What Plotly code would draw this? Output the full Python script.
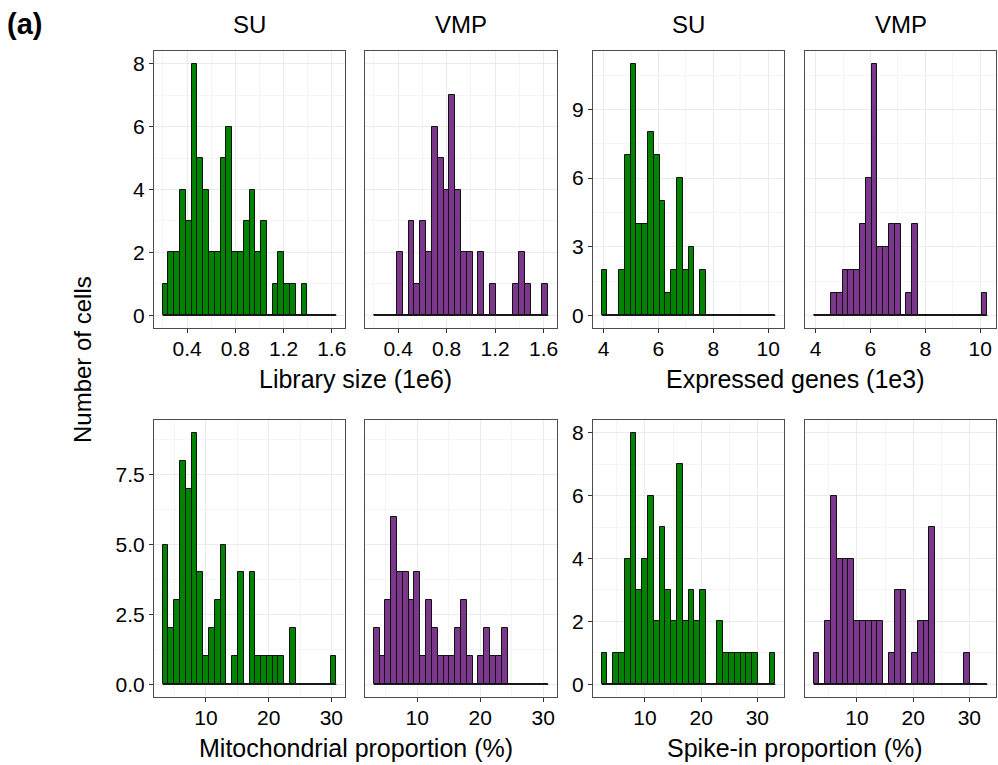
import plotly.graph_objects as go

# ---------------- data ----------------
groups = ["SU", "VMP"]
metrics = ["Library size (1e6)", "Expressed genes (1e3)",
           "Mitochondrial proportion (%)", "Spike-in proportion (%)"]

# histogram bins (30 bins, shared within each metric)
lib_bin_start, lib_bin_width = 0.198, 0.048
genes_bin_start, genes_bin_width = 3.93, 0.211
mito_bin_start, mito_bin_width = 3.10, 0.923
spike_bin_start, spike_bin_width = 2.30, 1.03

lib_su = [1, 2, 2, 4, 3, 8, 5, 4, 2, 2, 5, 6, 2, 2, 3, 4, 2, 3, 0, 1, 2, 1, 1, 0, 1, 0, 0, 0, 0, 0]
lib_vmp = [0, 0, 0, 0, 2, 0, 3, 1, 3, 2, 6, 5, 4, 7, 4, 2, 2, 0, 2, 0, 1, 0, 0, 0, 1, 2, 1, 0, 0, 1]

genes_su = [2, 0, 0, 2, 7, 11, 4, 4, 8, 7, 5, 1, 2, 6, 2, 3, 0, 2, 0, 0, 0, 0, 0, 0, 0, 0, 0, 0, 0, 0]
genes_vmp = [0, 0, 0, 1, 1, 2, 2, 2, 4, 6, 11, 3, 3, 4, 4, 0, 1, 4, 0, 0, 0, 0, 0, 0, 0, 0, 0, 0, 0, 1]

mito_su = [5, 2, 3, 8, 7, 9, 4, 1, 2, 3, 5, 0, 1, 4, 0, 4, 1, 1, 1, 1, 1, 0, 2, 0, 0, 0, 0, 0, 0, 1]
mito_vmp = [2, 1, 3, 6, 4, 4, 3, 4, 1, 3, 2, 1, 1, 1, 2, 3, 1, 0, 1, 2, 1, 1, 2, 0, 0, 0, 0, 0, 0, 0]

spike_su = [1, 0, 1, 1, 4, 8, 3, 4, 6, 2, 5, 3, 2, 7, 2, 3, 2, 3, 0, 0, 2, 1, 1, 1, 1, 1, 1, 0, 0, 1]
spike_vmp = [1, 0, 2, 6, 4, 4, 4, 2, 2, 2, 2, 2, 0, 1, 3, 3, 0, 1, 2, 2, 5, 0, 0, 0, 0, 0, 1, 0, 0, 0]

lib_xticks = [0.4, 0.8, 1.2, 1.6]
genes_xticks = [4, 6, 8, 10]
mito_xticks = [10, 20, 30]
spike_xticks = [10, 20, 30]

# ---------------- styling ----------------
W, H = 998, 765
GREEN = "#008300"
PURPLE = "#7a378b"
FONT = "Liberation Sans, Arial, sans-serif"

panel_x = [(154, 345), (365, 557), (593, 784), (805, 996)]
row_y = [(51, 328), (420, 697)]

panels = [
    # (row, col, counts, start, width, color, xticks, ydtick, yminor, ymax, ytickformat)
    (0, 0, lib_su, lib_bin_start, lib_bin_width, GREEN, lib_xticks, 2, 1, 8, ""),
    (0, 1, lib_vmp, lib_bin_start, lib_bin_width, PURPLE, lib_xticks, 2, 1, 8, ""),
    (0, 2, genes_su, genes_bin_start, genes_bin_width, GREEN, genes_xticks, 3, 1.5, 11, ""),
    (0, 3, genes_vmp, genes_bin_start, genes_bin_width, PURPLE, genes_xticks, 3, 1.5, 11, ""),
    (1, 0, mito_su, mito_bin_start, mito_bin_width, GREEN, mito_xticks, 2.5, 1.25, 9, ".1f"),
    (1, 1, mito_vmp, mito_bin_start, mito_bin_width, PURPLE, mito_xticks, 2.5, 1.25, 9, ".1f"),
    (1, 2, spike_su, spike_bin_start, spike_bin_width, GREEN, spike_xticks, 2, 1, 8, ""),
    (1, 3, spike_vmp, spike_bin_start, spike_bin_width, PURPLE, spike_xticks, 2, 1, 8, ""),
]

minor_x = {(0, 0): 0.2, (0, 1): 1, (1, 0): 5, (1, 1): 5}

fig = go.Figure()
layout = {}
for i, (r, c, counts, start, width, color, xticks, ydt, ymin_dt, ymax, yfmt) in enumerate(panels):
    n = i + 1
    xa = "x" if n == 1 else f"x{n}"
    ya = "y" if n == 1 else f"y{n}"
    nb = len(counts)
    centers = [start + width * (k + 0.5) for k in range(nb)]
    end = start + width * nb
    # baseline (zero-height bins drawn as flat line, like ggplot)
    fig.add_trace(go.Scatter(x=[start, end], y=[0, 0], mode="lines",
                             line=dict(color="#1a1a1a", width=1.2),
                             xaxis=xa, yaxis=ya, showlegend=False, hoverinfo="skip"))
    fig.add_trace(go.Bar(x=centers, y=counts, width=width,
                         marker=dict(color=color, line=dict(color="#111111", width=1)),
                         xaxis=xa, yaxis=ya, showlegend=False))
    span = end - start
    xr = [start - 0.05 * span, end + 0.05 * span]
    yr = [-0.05 * ymax, ymax * 1.05]
    x0, x1 = panel_x[c]
    y0, y1 = row_y[r]
    mdt = minor_x[(r, c // 2)]
    layout["xaxis" if n == 1 else f"xaxis{n}"] = dict(
        domain=[x0 / W, x1 / W], anchor=ya, range=xr,
        tickmode="array", tickvals=xticks,
        ticks="outside", ticklen=4, tickcolor="#333333", tickwidth=1,
        ticklabelstandoff=-2,
        tickfont=dict(family=FONT, size=21, color="black"),
        showgrid=True, gridcolor="#EBEBEB", gridwidth=1,
        minor=dict(dtick=mdt, tick0=0, showgrid=True, gridcolor="#F5F5F5", ticks=""),
        showline=True, linecolor="#4d4d4d", linewidth=1, mirror=True,
        zeroline=False, fixedrange=True,
    )
    layout["yaxis" if n == 1 else f"yaxis{n}"] = dict(
        domain=[1 - y1 / H, 1 - y0 / H], anchor=xa, range=yr,
        tick0=0, dtick=ydt, tickformat=yfmt,
        ticks="outside" if c % 2 == 0 else "", ticklen=4, tickcolor="#333333",
        showticklabels=(c % 2 == 0),
        tickfont=dict(family=FONT, size=21, color="black"),
        showgrid=True, gridcolor="#EBEBEB", gridwidth=1,
        minor=dict(dtick=ymin_dt, tick0=0, showgrid=True, gridcolor="#F5F5F5", ticks=""),
        showline=True, linecolor="#4d4d4d", linewidth=1, mirror=True,
        zeroline=False, fixedrange=True,
    )

annotations = []
# column headers
for c in range(4):
    x0, x1 = panel_x[c]
    annotations.append(dict(text=groups[c % 2], x=(x0 + x1) / 2 / W, y=1 - 24 / H,
                            xref="paper", yref="paper", showarrow=False,
                            font=dict(family=FONT, size=24, color="black"),
                            xanchor="center", yanchor="middle"))
# metric axis titles
title_pos = [(0, 0), (0, 1), (1, 0), (1, 1)]
for m, (r, pair) in zip(metrics, title_pos):
    xl = panel_x[2 * pair][0]
    xr_ = panel_x[2 * pair + 1][1]
    yc = row_y[r][1] + 51
    annotations.append(dict(text=m, x=(xl + xr_) / 2 / W, y=1 - yc / H,
                            xref="paper", yref="paper", showarrow=False,
                            font=dict(family=FONT, size=25, color="black"),
                            xanchor="center", yanchor="middle"))
annotations.append(dict(text="Number of cells", x=82 / W, y=1 - 360 / H,
                        xref="paper", yref="paper", showarrow=False, textangle=-90,
                        font=dict(family=FONT, size=24, color="black"),
                        xanchor="center", yanchor="middle"))
annotations.append(dict(text="<b>(a)</b>", x=5 / W, y=1 - 24 / H,
                        xref="paper", yref="paper", showarrow=False,
                        font=dict(family=FONT, size=29, color="black"),
                        xanchor="left", yanchor="middle"))

fig.update_layout(
    width=W, height=H, margin=dict(l=0, r=0, t=0, b=0),
    paper_bgcolor="white", plot_bgcolor="white",
    bargap=0, barmode="overlay",
    annotations=annotations,
    **layout,
)

fig.write_html("out.html")
